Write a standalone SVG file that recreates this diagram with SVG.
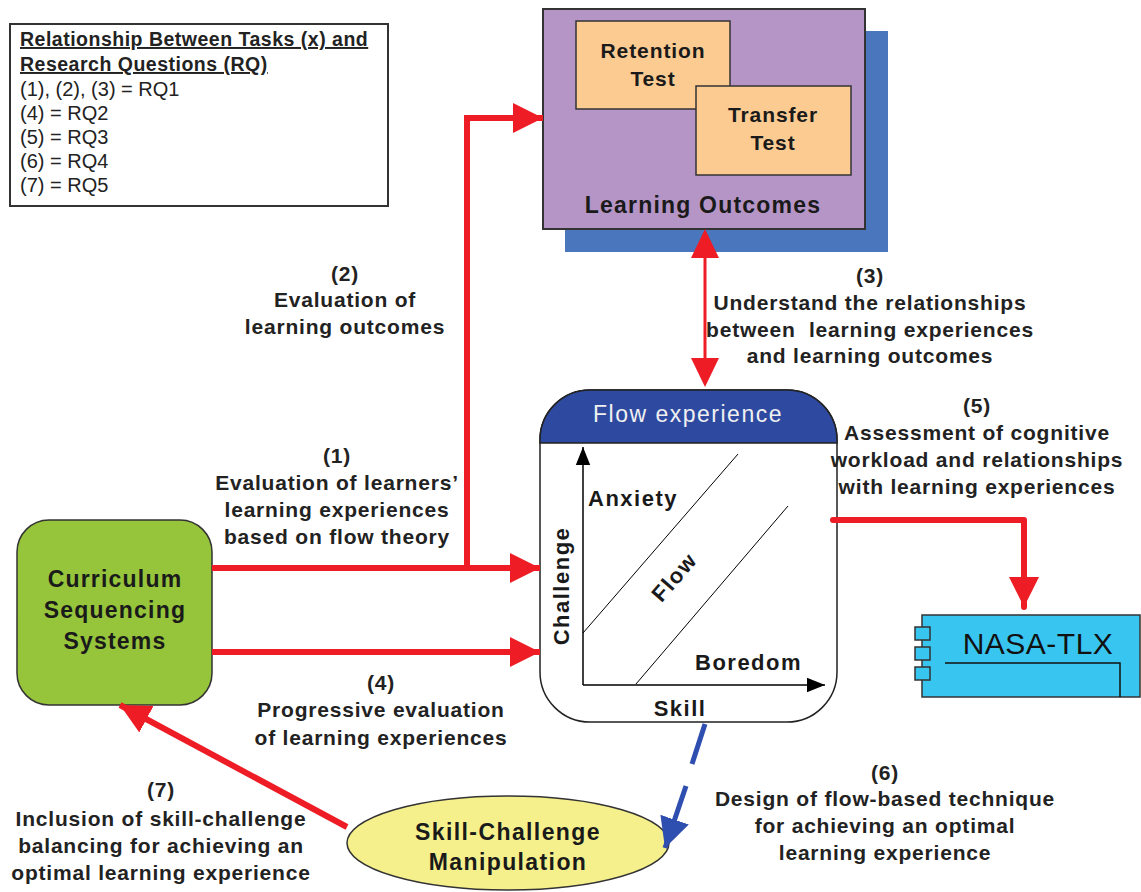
<svg xmlns="http://www.w3.org/2000/svg" width="1141" height="892" viewBox="0 0 1141 892">
<defs>
<style>
.lbl{font-family:"Liberation Sans",Arial,sans-serif;font-weight:bold;font-size:21px;letter-spacing:0.8px;fill:#222;text-anchor:middle}
.nb{font-family:"Liberation Sans",Arial,sans-serif;font-weight:bold;fill:#1a1a1a;text-anchor:middle}
.leg{font-family:"Liberation Sans",Arial,sans-serif;font-size:20px;fill:#222}
.legb{font-family:"Liberation Sans",Arial,sans-serif;font-size:19.5px;font-weight:bold;letter-spacing:0.5px;fill:#222;text-decoration:underline}
.red{stroke:#ee1c25;stroke-width:6;fill:none}
</style>
<marker id="ah" viewBox="0 0 10 10" refX="10" refY="5" markerWidth="5" markerHeight="5.5" orient="auto" markerUnits="strokeWidth"><path d="M0,0 L10,5 L0,10 Z" fill="#ee1c25"/></marker>
<marker id="ahb" viewBox="0 0 10 10" refX="10" refY="5" markerWidth="6" markerHeight="6" orient="auto" markerUnits="strokeWidth"><path d="M0,0 L10,5 L0,10 Z" fill="#2f4fb0"/></marker>
<marker id="ahk" viewBox="0 0 10 10" refX="10" refY="5" markerWidth="12" markerHeight="12" orient="auto" markerUnits="strokeWidth"><path d="M0,1 L10,5 L0,9 Z" fill="#000"/></marker>
</defs>
<rect width="1141" height="892" fill="#fff"/>

<g id="legend">
<rect x="10" y="24" width="378" height="182" fill="#fff" stroke="#333" stroke-width="2"/>
<text class="legb" x="20" y="46">Relationship Between Tasks (x) and</text>
<text class="legb" x="20" y="71">Research Questions (RQ)</text>
<text class="leg" x="20" y="96">(1), (2), (3) = RQ1</text>
<text class="leg" x="20" y="120">(4) = RQ2</text>
<text class="leg" x="20" y="144">(5) = RQ3</text>
<text class="leg" x="20" y="168">(6) = RQ4</text>
<text class="leg" x="20" y="192">(7) = RQ5</text>
</g>

<g id="learning-outcomes">
<rect x="565" y="31" width="323" height="221" fill="#4a76bd"/>
<rect x="543" y="9" width="322" height="220" fill="#b595c6" stroke="#333" stroke-width="2"/>
<rect x="576" y="21" width="154" height="88" fill="#fbcb92" stroke="#333" stroke-width="1.5"/>
<rect x="696" y="86" width="155" height="89" fill="#fbcb92" stroke="#333" stroke-width="1.5"/>
<text class="nb" x="653" y="58" font-size="21" letter-spacing="0.9">Retention</text>
<text class="nb" x="653" y="86" font-size="21" letter-spacing="0.9">Test</text>
<text class="nb" x="773" y="122" font-size="21" letter-spacing="0.9">Transfer</text>
<text class="nb" x="773" y="150" font-size="21" letter-spacing="0.9">Test</text>
<text class="nb" x="703" y="213" font-size="23" letter-spacing="1.2">Learning Outcomes</text>
</g>

<g id="flow-experience">
<path d="M590,390 H787 A50,50 0 0 1 837,440 V672 A50,50 0 0 1 787,722 H590 A50,50 0 0 1 540,672 V440 A50,50 0 0 1 590,390 Z" fill="#fff" stroke="#222" stroke-width="1.5"/>
<path d="M590,390 H787 A50,50 0 0 1 837,440 V443 H540 V440 A50,50 0 0 1 590,390 Z" fill="#2e4aa0" stroke="#222" stroke-width="1.5"/>
<text x="688" y="422" font-family="Liberation Sans,Arial,sans-serif" font-size="23" fill="#f0f0f0" text-anchor="middle" letter-spacing="1.5">Flow experience</text>
<line x1="583" y1="685" x2="583" y2="447" stroke="#000" stroke-width="1.5" marker-end="url(#ahk)"/>
<line x1="583" y1="685" x2="825" y2="685" stroke="#000" stroke-width="1.5" marker-end="url(#ahk)"/>
<line x1="583" y1="633" x2="738" y2="454" stroke="#000" stroke-width="1"/>
<line x1="636" y1="684" x2="788" y2="506" stroke="#000" stroke-width="1"/>
<text class="nb" x="588" y="506" font-size="22" letter-spacing="1.5" style="text-anchor:start">Anxiety</text>
<text class="nb" x="695" y="670" font-size="22" letter-spacing="1.5" style="text-anchor:start">Boredom</text>
<text class="nb" x="0" y="0" font-size="22" letter-spacing="1.5" transform="translate(680,582) rotate(-49)">Flow</text>
<text class="nb" x="0" y="0" font-size="22" letter-spacing="1.5" transform="translate(569,586) rotate(-90)">Challenge</text>
<text class="nb" x="680" y="716" font-size="22" letter-spacing="1.5">Skill</text>
</g>

<g id="curriculum">
<rect x="17" y="520" width="195" height="185" rx="32" fill="#96c43b" stroke="#333" stroke-width="1.5"/>
<text class="nb" x="115" y="587" font-size="23" letter-spacing="1.2">Curriculum</text>
<text class="nb" x="115" y="618" font-size="23" letter-spacing="1.2">Sequencing</text>
<text class="nb" x="115" y="649" font-size="23" letter-spacing="1.2">Systems</text>
</g>

<g id="nasa-tlx">
<rect x="922" y="615" width="218" height="82" fill="#38c5f0" stroke="#333" stroke-width="1.5"/>
<rect x="915" y="627" width="15" height="13" fill="#38c5f0" stroke="#333" stroke-width="1.5"/>
<rect x="915" y="647" width="15" height="13" fill="#38c5f0" stroke="#333" stroke-width="1.5"/>
<rect x="915" y="667" width="15" height="13" fill="#38c5f0" stroke="#333" stroke-width="1.5"/>
<polyline points="945,663 1120,663 1120,697" fill="none" stroke="#111" stroke-width="1.5"/>
<text x="1038" y="654" font-family="Liberation Sans,Arial,sans-serif" font-size="30" letter-spacing="0.5" fill="#111" text-anchor="middle">NASA-TLX</text>
</g>

<g id="skill-challenge">
<ellipse cx="508" cy="843" rx="161" ry="47" fill="#f5f08c" stroke="#333" stroke-width="1.5"/>
<text class="nb" x="508" y="840" font-size="23" letter-spacing="1.4">Skill-Challenge</text>
<text class="nb" x="508" y="870" font-size="23" letter-spacing="1.4">Manipulation</text>
</g>

<g id="connectors">
<line class="red" x1="212" y1="568" x2="540" y2="568" marker-end="url(#ah)"/>
<polyline class="red" points="467,571 467,118 543,118" marker-end="url(#ah)"/>
<line class="red" x1="212" y1="652" x2="540" y2="652" marker-end="url(#ah)"/>
<line x1="705" y1="250" x2="705" y2="366" stroke="#ee1c25" stroke-width="3"/>
<path d="M705,229 L719,258 L691,258 Z" fill="#ee1c25"/>
<path d="M705,387 L719,358 L691,358 Z" fill="#ee1c25"/>
<polyline class="red" points="833,520 1024,520 1024,607" stroke-linejoin="round" stroke-linecap="round" marker-end="url(#ah)"/>
<line class="red" x1="347" y1="827" x2="120" y2="705" marker-end="url(#ah)"/>
<line x1="705" y1="724" x2="692" y2="764" stroke="#2f4fb0" stroke-width="5"/>
<line x1="686" y1="786" x2="665" y2="848" stroke="#2f4fb0" stroke-width="5" marker-end="url(#ahb)"/>
</g>

<g id="labels">
<text class="lbl" x="345" y="281">(2)</text>
<text class="lbl" x="345" y="307">Evaluation of</text>
<text class="lbl" x="345" y="334">learning outcomes</text>
<text class="lbl" x="337" y="463">(1)</text>
<text class="lbl" x="337" y="490">Evaluation of learners’</text>
<text class="lbl" x="337" y="517">learning experiences</text>
<text class="lbl" x="337" y="544">based on flow theory</text>
<text class="lbl" x="870" y="283">(3)</text>
<text class="lbl" x="870" y="310">Understand the relationships</text>
<text class="lbl" x="870" y="337" xml:space="preserve">between  learning experiences</text>
<text class="lbl" x="870" y="363">and learning outcomes</text>
<text class="lbl" x="977" y="413">(5)</text>
<text class="lbl" x="977" y="440">Assessment of cognitive</text>
<text class="lbl" x="977" y="467">workload and relationships</text>
<text class="lbl" x="977" y="494">with learning experiences</text>
<text class="lbl" x="381" y="690">(4)</text>
<text class="lbl" x="381" y="717">Progressive evaluation</text>
<text class="lbl" x="381" y="745">of learning experiences</text>
<text class="lbl" x="885" y="780">(6)</text>
<text class="lbl" x="885" y="806">Design of flow-based technique</text>
<text class="lbl" x="885" y="833">for achieving an optimal</text>
<text class="lbl" x="885" y="860">learning experience</text>
<text class="lbl" x="161" y="797">(7)</text>
<text class="lbl" x="161" y="826">Inclusion of skill-challenge</text>
<text class="lbl" x="161" y="853">balancing for achieving an</text>
<text class="lbl" x="161" y="880">optimal learning experience</text>
</g>
</svg>
